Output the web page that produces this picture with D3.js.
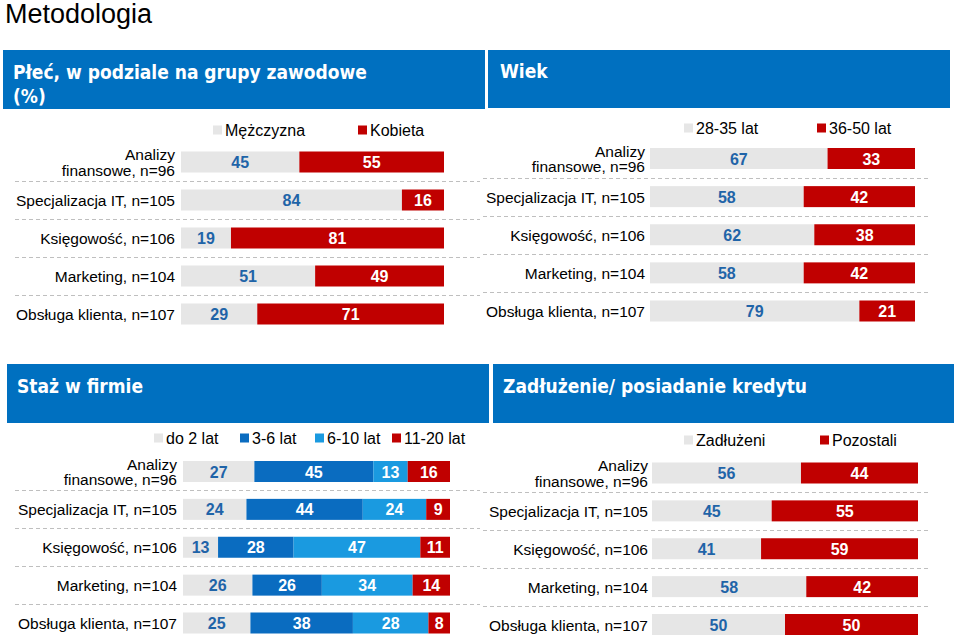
<!DOCTYPE html>
<html><head><meta charset="utf-8">
<script src="https://cdn.jsdelivr.net/npm/d3@7"></script>
<style>body{margin:0;background:#fff}svg{display:block}</style>
</head><body>
<svg id="c" width="960" height="638"></svg>
<script>
// ---- data ----
const categories = ["Analizy\nfinansowe, n=96", "Specjalizacja IT, n=105", "Księgowość, n=106", "Marketing, n=104", "Obsługa klienta, n=107"];

const plecLegend = ["Mężczyzna", "Kobieta"];
const plecMezczyzna = [45, 84, 19, 51, 29];
const plecKobieta = [55, 16, 81, 49, 71];

const wiekLegend = ["28-35 lat", "36-50 lat"];
const wiek28_35 = [67, 58, 62, 58, 79];
const wiek36_50 = [33, 42, 38, 42, 21];

const stazLegend = ["do 2 lat", "3-6 lat", "6-10 lat", "11-20 lat"];
const stazDo2 = [27, 24, 13, 26, 25];
const staz3_6 = [45, 44, 28, 26, 38];
const staz6_10 = [13, 24, 47, 34, 28];
const staz11_20 = [16, 9, 11, 14, 8];

const zadLegend = ["Zadłużeni", "Pozostali"];
const zadluzeni = [56, 45, 41, 58, 50];
const pozostali = [44, 55, 59, 42, 50];

// ---- styles ----
const GREY = "#e6e6e6", RED = "#c00000", DBLUE = "#0a6cc0", LBLUE = "#1a9ae0", HEAD = "#0070c0", VALBLUE = "#1f64a8";
const LBL_FONT = "'Liberation Sans', Arial, sans-serif";
const HEAD_FONT = "'DejaVu Sans Condensed', 'DejaVu Sans', Verdana, sans-serif";

const svg = d3.select("#c");

svg.append("text").attr("x", 5).attr("y", 23)
  .attr("font-family", LBL_FONT).attr("font-size", 27).attr("fill", "#000")
  .text("Metodologia");

const panels = [
  { box: [3, 50, 485, 109], title: ["Płeć, w podziale na grupy zawodowe", "(%)"], tx: 13, ty: 79,
    legend: plecLegend, legX: [213, 358], legY: 130, series: [plecMezczyzna, plecKobieta], colors: [GREY, RED],
    xr: [181, 444], yr: [162, 314], labelX: 175, sep: [15, 480] },
  { box: [488, 50, 950, 108], title: ["Wiek"], tx: 500, ty: 78,
    legend: wiekLegend, legX: [684, 817], legY: 128, series: [wiek28_35, wiek36_50], colors: [GREY, RED],
    xr: [650, 915], yr: [158.5, 311], labelX: 645, sep: [483, 930] },
  { box: [7, 364, 489, 423], title: ["Staż w firmie"], tx: 17, ty: 393,
    legend: stazLegend, legX: [154, 240, 315, 392], legY: 438, series: [stazDo2, staz3_6, staz6_10, staz11_20], colors: [GREY, DBLUE, LBLUE, RED],
    xr: [183, 450], yr: [471.5, 623], labelX: 177, sep: [15, 480] },
  { box: [493, 364, 954, 423], title: ["Zadłużenie/ posiadanie kredytu"], tx: 503, ty: 393,
    legend: zadLegend, legX: [684, 820], legY: 440, series: [zadluzeni, pozostali], colors: [GREY, RED],
    xr: [652, 918], yr: [473, 624.5], labelX: 648, sep: [483, 928] }
];

const BAR_H = 21;

panels.forEach(p => {
  const g = svg.append("g");
  const [x0, y0, x1, y1] = p.box;
  g.append("rect").attr("x", x0).attr("y", y0).attr("width", x1 - x0).attr("height", y1 - y0).attr("fill", HEAD);
  p.title.forEach((t, i) => {
    g.append("text").attr("x", p.tx).attr("y", p.ty + i * 24)
      .attr("font-family", HEAD_FONT).attr("font-weight", "bold").attr("font-size", 19).attr("fill", "#fff").text(t);
  });

  // legend
  p.legend.forEach((name, i) => {
    g.append("rect").attr("x", p.legX[i]).attr("y", p.legY - 4.5).attr("width", 9).attr("height", 9).attr("fill", p.colors[i]);
    g.append("text").attr("x", p.legX[i] + 12).attr("y", p.legY + 6)
      .attr("font-family", LBL_FONT).attr("font-size", 16).attr("fill", "#000").text(name);
  });

  const y = d3.scalePoint().domain(categories).range(p.yr);
  const step = y.step();

  // separators
  categories.slice(0, -1).forEach(c => {
    g.append("line").attr("x1", p.sep[0]).attr("x2", p.sep[1])
      .attr("y1", Math.round(y(c) + step / 2) + 0.5).attr("y2", Math.round(y(c) + step / 2) + 0.5)
      .attr("stroke", "#bfbfbf").attr("stroke-dasharray", "4,3").attr("stroke-width", 1);
  });

  // category labels
  categories.forEach(c => {
    const lines = c.split("\n");
    const t = g.append("text").attr("text-anchor", "end")
      .attr("font-family", LBL_FONT).attr("font-size", 15.5).attr("fill", "#000");
    lines.forEach((ln, i) => {
      t.append("tspan").attr("x", p.labelX)
        .attr("y", y(c) + 6 + (i - (lines.length - 1) / 2) * 15.5).text(ln);
    });
  });

  // stacked bars (normalized per row)
  categories.forEach((c, ri) => {
    const vals = p.series.map(s => s[ri]);
    const total = d3.sum(vals);
    const x = d3.scaleLinear().domain([0, total]).range(p.xr);
    let acc = 0;
    vals.forEach((v, si) => {
      const xa = x(acc), xb = x(acc + v);
      g.append("rect").attr("x", xa).attr("y", y(c) - BAR_H / 2).attr("width", xb - xa).attr("height", BAR_H)
        .attr("fill", p.colors[si]);
      g.append("text").attr("x", (xa + xb) / 2).attr("y", y(c) + 6).attr("text-anchor", "middle")
        .attr("font-family", LBL_FONT).attr("font-weight", "bold").attr("font-size", 16)
        .attr("fill", p.colors[si] === GREY ? VALBLUE : "#fff").text(v);
      acc += v;
    });
  });
});
</script>
</body></html>
